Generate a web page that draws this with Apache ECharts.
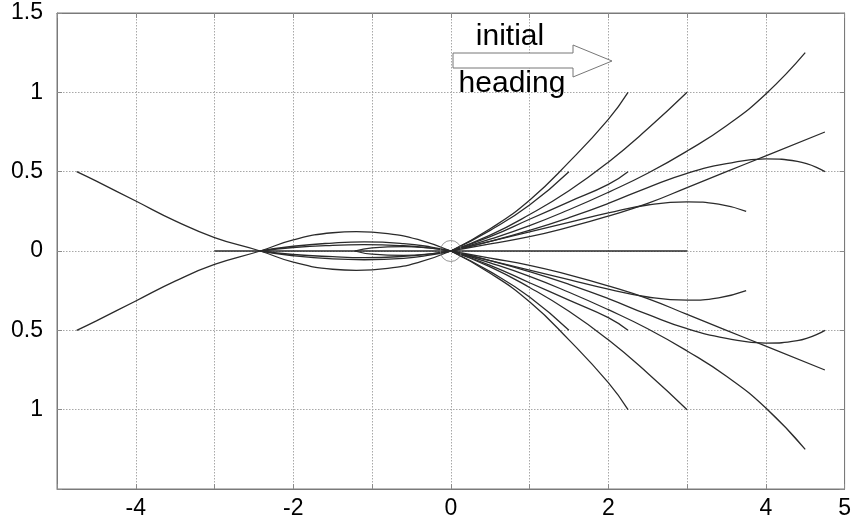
<!DOCTYPE html>
<html>
<head>
<meta charset="utf-8">
<script src="https://cdn.jsdelivr.net/npm/echarts@6/dist/echarts.min.js"></script>
<style>
html,body{margin:0;padding:0;background:#fff;}
#chart{width:854px;height:522px;}
</style>
</head>
<body>
<div id="chart"></div>
<script>
// ---- axis ticks ----
const xTickLabels = [-4, -2, 0, 2, 4, 5];
const yTickLabels = [1.5, 1, 0.5, 0, -0.5, -1];

// ---- forward trajectories (upper half) ----
const pathA_up = [[0,0],[0.5,0.14],[1,0.32],[1.5,0.56],[2,0.83],[2.25,1.0]];
const pathG_up = [[0,0],[0.5,0.13],[1,0.29],[1.5,0.5]];
const pathB_up = [[0,0],[0.5,0.1],[1,0.23],[1.5,0.38],[2,0.56],[2.5,0.77],[3,1.0]];
const pathH_up = [[0,0],[0.5,0.09],[1,0.2],[1.5,0.31],[2,0.42],[2.25,0.5]];
const pathC_up = [[0,0],[0.5,0.075],[1,0.16],[1.5,0.26],[2,0.37],[2.5,0.49],[3,0.63],[3.5,0.79],[4,0.99],[4.5,1.25]];
const pathE_up = [[0,0],[0.5,0.06],[1,0.13],[1.5,0.21],[2,0.3],[2.5,0.4],[3,0.49],[3.5,0.55],[4,0.58],[4.4,0.565],[4.75,0.5]];
const pathD_up = [[0,0],[0.5,0.045],[1,0.09],[1.5,0.15],[2,0.22],[2.5,0.3],[3,0.4],[3.5,0.5],[4,0.6],[4.75,0.75]];
const pathF_up = [[0,0],[0.5,0.06],[1,0.12],[1.5,0.18],[2,0.24],[2.5,0.29],[3,0.31],[3.4,0.295],[3.75,0.25]];

// ---- forward trajectories (lower half) ----
const pathA_lo = [[0,0],[0.5,-0.14],[1,-0.32],[1.5,-0.56],[2,-0.83],[2.25,-1.0]];
const pathG_lo = [[0,0],[0.5,-0.13],[1,-0.29],[1.5,-0.5]];
const pathB_lo = [[0,0],[0.5,-0.1],[1,-0.23],[1.5,-0.38],[2,-0.56],[2.5,-0.77],[3,-1.0]];
const pathH_lo = [[0,0],[0.5,-0.09],[1,-0.2],[1.5,-0.31],[2,-0.42],[2.25,-0.5]];
const pathC_lo = [[0,0],[0.5,-0.075],[1,-0.16],[1.5,-0.26],[2,-0.37],[2.5,-0.49],[3,-0.63],[3.5,-0.79],[4,-0.99],[4.5,-1.25]];
const pathE_lo = [[0,0],[0.5,-0.06],[1,-0.13],[1.5,-0.21],[2,-0.3],[2.5,-0.4],[3,-0.49],[3.5,-0.55],[4,-0.58],[4.4,-0.565],[4.75,-0.5]];
const pathD_lo = [[0,0],[0.5,-0.045],[1,-0.09],[1.5,-0.15],[2,-0.22],[2.5,-0.3],[3,-0.4],[3.5,-0.5],[4,-0.6],[4.75,-0.75]];
const pathF_lo = [[0,0],[0.5,-0.06],[1,-0.12],[1.5,-0.18],[2,-0.24],[2.5,-0.29],[3,-0.31],[3.4,-0.295],[3.75,-0.25]];

// ---- straight line along the heading ----
const pathStraight = [[-3,0],[3,0]];

// ---- backward trajectories ----
const pathBackUp = [[-4.75,0.5],[-4.5,0.44],[-4,0.315],[-3.5,0.19],[-3,0.085],[-2.42,0],[-2,-0.07],[-1.5,-0.115],[-1.2,-0.122],[-0.8,-0.11],[-0.4,-0.07],[0,0]];
const pathBackLo = [[-4.75,-0.5],[-4.5,-0.44],[-4,-0.315],[-3.5,-0.19],[-3,-0.085],[-2.42,0],[-2,0.07],[-1.5,0.115],[-1.2,0.122],[-0.8,0.11],[-0.4,0.07],[0,0]];
const lensIn1_up = [[-2.42,0],[-2,0.03],[-1.5,0.05],[-1.1,0.057],[-0.6,0.047],[-0.25,0.025],[0,0]];
const lensIn2_up = [[-2.42,0],[-2,0.022],[-1.5,0.036],[-1.1,0.04],[-0.6,0.033],[-0.25,0.018],[0,0]];
const lensIn1_lo = [[-2.42,0],[-2,-0.03],[-1.5,-0.05],[-1.1,-0.055],[-0.6,-0.047],[-0.25,-0.025],[0,0]];
const lensIn2_lo = [[-2.42,0],[-2,-0.022],[-1.5,-0.036],[-1.1,-0.042],[-0.6,-0.034],[-0.25,-0.018],[0,0]];
const shortBack_up = [[-1.22,0],[-1,0.02],[-0.6,0.028],[-0.25,0.018],[0,0]];
const shortBack_lo = [[-1.22,0],[-1,-0.02],[-0.6,-0.028],[-0.25,-0.018],[0,0]];

const startPoint = [[0,0]];

const allPaths = [
  pathA_up, pathG_up, pathB_up, pathH_up, pathC_up, pathE_up, pathD_up, pathF_up,
  pathA_lo, pathG_lo, pathB_lo, pathH_lo, pathC_lo, pathE_lo, pathD_lo, pathF_lo,
  pathStraight, pathBackUp, pathBackLo, lensIn1_up, lensIn2_up, lensIn1_lo, lensIn2_lo,
  shortBack_up, shortBack_lo
];

const chart = echarts.init(document.getElementById('chart'), null, {renderer: 'canvas'});

const FONT = '"Liberation Sans", Arial, sans-serif';
const gridLine = {show: true, lineStyle: {color: '#a8a8a8', type: [1.5, 1.5], width: 1}};
const frameLine = {show: true, onZero: false, lineStyle: {color: '#7a7a7a', width: 1}};
const tickIn = {show: true, inside: true, length: 5, lineStyle: {color: '#8a8a8a'}};

const series = allPaths.map(function (p, i) {
  return {
    type: 'line',
    name: 'path' + i,
    data: p,
    xAxisIndex: 0, yAxisIndex: 0,
    smooth: 0.5,
    showSymbol: false,
    silent: true,
    lineStyle: {color: '#2b2b2b', width: 1.3},
    z: 3
  };
});
series.push({
  type: 'scatter',
  data: startPoint,
  symbol: 'circle',
  symbolSize: 21,
  itemStyle: {color: 'rgba(255,255,255,0)', borderColor: '#7d7d7d', borderWidth: 1},
  z: 4,
  silent: true
});

chart.setOption({
  animation: false,
  backgroundColor: '#ffffff',
  grid: {left: 57, right: 6, top: 13, bottom: 33, containLabel: false,
         show: true, borderColor: '#7a7a7a', borderWidth: 1, backgroundColor: 'transparent'},
  xAxis: [{
    type: 'value', position: 'bottom', min: -5, max: 5, interval: 1,
    axisLine: frameLine, axisTick: tickIn, splitLine: gridLine,
    axisLabel: {
      margin: 8, color: '#000', fontSize: 23, fontFamily: FONT,
      showMinLabel: true, showMaxLabel: true,
      formatter: function (v) {
        const r = Math.round(v);
        return xTickLabels.indexOf(r) >= 0 ? String(r) : '';
      }
    }
  }, {
    type: 'value', position: 'top', min: -5, max: 5, interval: 1,
    axisLine: frameLine, axisTick: tickIn, splitLine: {show: false},
    axisLabel: {show: false}
  }],
  yAxis: [{
    type: 'value', position: 'left', min: -1.5, max: 1.5, interval: 0.5,
    axisLine: frameLine, axisTick: tickIn, splitLine: gridLine,
    axisLabel: {
      margin: 14, color: '#000', fontSize: 23, fontFamily: FONT,
      formatter: function (v) {
        const r = Math.round(v * 10) / 10;
        return yTickLabels.indexOf(r) >= 0 ? String(Math.abs(r)) : '';
      }
    }
  }, {
    type: 'value', position: 'right', min: -1.5, max: 1.5, interval: 0.5,
    axisLine: frameLine, axisTick: tickIn, splitLine: {show: false},
    axisLabel: {show: false}
  }],
  series: series,
  graphic: [
    {
      type: 'polygon', z: 10,
      shape: {points: [[453,53],[573,53],[573,45],[612,61],[573,77],[573,68],[453,68]]},
      style: {fill: '#ffffff', stroke: '#777777', lineWidth: 1}
    },
    {
      type: 'text', z: 11,
      style: {text: 'initial', x: 510, y: 37, align: 'center', verticalAlign: 'middle',
              font: '30px ' + FONT, fill: '#000'}
    },
    {
      type: 'text', z: 11,
      style: {text: 'heading', x: 512, y: 84, align: 'center', verticalAlign: 'middle',
              font: '30px ' + FONT, fill: '#000'}
    }
  ]
});
</script>
</body>
</html>
